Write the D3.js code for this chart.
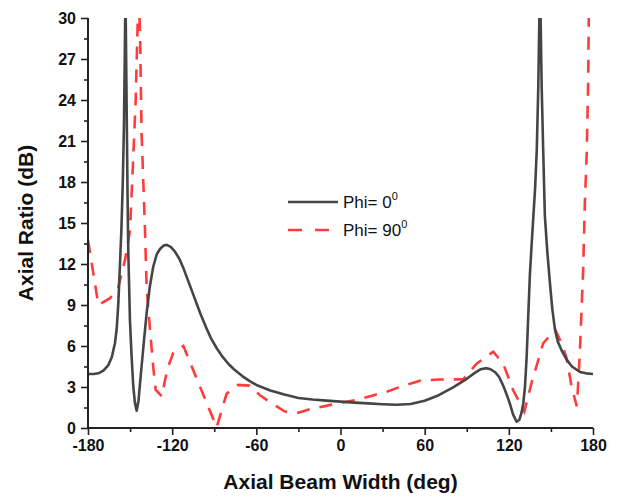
<!DOCTYPE html>
<html>
<head>
<meta charset="utf-8">
<script src="https://cdn.jsdelivr.net/npm/d3@7"></script>
<style>
  html, body { margin: 0; padding: 0; background: #fff; }
  svg { display: block; font-family: "Liberation Sans", Arial, Helvetica, sans-serif; }
</style>
</head>
<body>
<svg id="chart" width="618" height="497"></svg>
<script>
// ---- data ----
const xTicks = [-180, -120, -60, 0, 60, 120, 180];
const yTicks = [0, 3, 6, 9, 12, 15, 18, 21, 24, 27, 30];
const seriesNames = ["Phi= 0", "Phi= 90"];

const phi0Deg = [-180,-176,-172.6,-169,-165.5,-163,-160.8,-159.5,-158.4,-157.2,-156.2,-155.2,-154.4,-153.8,-153.3,-152.8,-152.3,-151.8,-151.3,-150.6,-150.1,-149,-147.7,-146.5,-145.3,-144,-142.8,-141.8,-140,-138.2,-136,-133.5,-131,-128.7,-126,-123.9,-121,-118,-115,-112,-108,-104,-100,-96,-92,-88,-84,-80,-76,-70,-65,-60,-50,-40,-30,-20,-10,0,10,20,30,40,50,60,70,80,90,96,100,104,107,110,113,116,119,121,123,125.5,127.5,129,130.3,131.5,132.7,133.8,135,136.3,137.5,138.7,139.9,141,142.2,143.4,144.5,145.7,147.5,149.3,151,152.9,155,158,161.2,165,170.7,175,180];
const phi0Val = [3.95,3.95,4.0,4.2,4.6,5.2,6.2,7.3,9.1,12.0,14.5,18,22,27,32,27,22,17,13,10,7.9,5.4,3.0,1.8,1.27,2.0,3.4,4.5,6.5,8.4,10.3,11.8,12.7,13.1,13.35,13.4,13.25,12.9,12.4,11.7,10.6,9.5,8.4,7.4,6.5,5.8,5.2,4.7,4.3,3.8,3.45,3.15,2.75,2.45,2.2,2.08,2.0,1.93,1.86,1.8,1.74,1.7,1.76,2.0,2.4,2.95,3.6,4.05,4.3,4.38,4.3,4.1,3.75,3.1,2.3,1.7,1.0,0.46,0.6,1.1,1.8,3.0,5.2,8.1,11.2,13.5,15.5,17.5,20.3,25,33,25,20.3,15.5,12.8,10.6,8.7,7.2,6.3,5.6,5.0,4.5,4.1,4.0,3.95];

const phi90Deg = [-180,-172.6,-164.3,-158.4,-153.6,-150.1,-148.5,-146,-144.5,-143.6,-142.9,-141.8,-139.4,-138.2,-135.8,-133.5,-131.8,-127.3,-125.1,-122.8,-119.2,-112,-88.3,-81.2,-73,-65,-57.4,-49,-39.6,-30,-21,-11,0,11.5,22,33,45,56.6,70,87.5,97,108.9,116,123,131,136.2,144.5,153,157.6,161.2,164.8,168.4,169.2,170.7,173,174.2,175.5,176.5,177,177.5];
const phi90Val = [13.75,9.0,9.5,10.3,12.3,14.4,18,24,30,31,28.9,21.6,14.6,10.3,7.2,4.5,2.8,2.3,3.5,4.5,5.5,6.0,0.05,2.5,3.15,3.1,2.4,1.8,1.2,1.12,1.4,1.6,1.85,2.05,2.35,2.66,3.1,3.46,3.55,3.56,4.7,5.58,4.7,2.8,1.2,3.3,6.2,7.2,6.2,5.1,3.0,1.6,2.8,5.7,11.6,16.5,20,25,30,32];

// ---- layout ----
const svg = d3.select("#chart");
const mLeft = 88, mRight = 593, mTop = 18, mBottom = 428;
const x = d3.scaleLinear().domain([-180, 180]).range([mLeft, mRight]);
const y = d3.scaleLinear().domain([0, 30]).range([mBottom, mTop]);

svg.append("defs").append("clipPath").attr("id", "clip")
  .append("rect").attr("x", mLeft).attr("y", mTop).attr("width", mRight - mLeft + 2).attr("height", mBottom - mTop);

const line = d3.line().x(d => x(d[0])).y(d => y(d[1]));
const d0 = phi0Deg.map((d, i) => [d, phi0Val[i]]);
const d90 = phi90Deg.map((d, i) => [d, phi90Val[i]]);

const plot = svg.append("g").attr("clip-path", "url(#clip)");
plot.append("path").datum(d90).attr("d", line)
  .attr("fill", "none").attr("stroke", "#ff3b3b").attr("stroke-width", 2.6)
  .attr("stroke-dasharray", "13,10");
plot.append("path").datum(d0).attr("d", line)
  .attr("fill", "none").attr("stroke", "#454545").attr("stroke-width", 2.6)
  .attr("stroke-linejoin", "round");

// ---- axes ----
const xMinor = d3.range(-150, 180, 60);
const yMinor = d3.range(1.5, 30, 3);
const fmt = d => String(d);

const xAxis = svg.append("g").attr("transform", `translate(0,${mBottom})`)
  .call(d3.axisBottom(x).tickValues(xTicks).tickSize(7).tickPadding(5).tickFormat(fmt));
svg.append("g").attr("transform", `translate(0,${mBottom})`)
  .call(d3.axisBottom(x).tickValues(xMinor).tickSize(4).tickFormat(""))
  .call(g => g.select(".domain").remove());
const yAxis = svg.append("g").attr("transform", `translate(${mLeft},0)`)
  .call(d3.axisLeft(y).tickValues(yTicks).tickSize(7).tickPadding(5).tickFormat(fmt));
svg.append("g").attr("transform", `translate(${mLeft},0)`)
  .call(d3.axisLeft(y).tickValues(yMinor).tickSize(4).tickFormat(""))
  .call(g => g.select(".domain").remove());

svg.selectAll(".domain").attr("stroke", "#222").attr("stroke-width", 2);
svg.selectAll(".tick line").attr("stroke", "#222").attr("stroke-width", 1.6);
svg.selectAll(".tick text").attr("font-size", 16).attr("font-weight", "bold")
  .attr("fill", "#111").attr("font-family", "'Liberation Sans', Arial, sans-serif");
xAxis.selectAll(".domain").attr("d", `M${mLeft},0H${mRight}`);
yAxis.selectAll(".domain").attr("d", `M0,${mBottom}V${mTop}`);

// ---- titles ----
svg.append("text").attr("x", (mLeft + mRight) / 2).attr("y", 489)
  .attr("text-anchor", "middle").attr("font-size", 21).attr("font-weight", "bold")
  .attr("fill", "#111").text("Axial Beam Width (deg)");
svg.append("text").attr("transform", `translate(33,${(mTop + mBottom) / 2}) rotate(-90)`)
  .attr("text-anchor", "middle").attr("font-size", 21).attr("font-weight", "bold")
  .attr("fill", "#111").text("Axial Ratio (dB)");

// ---- legend ----
const legend = svg.append("g");
const legendItems = [
  { name: seriesNames[0], color: "#454545", dash: null, yy: 202, ty: 208 },
  { name: seriesNames[1], color: "#ff3b3b", dash: "14,13", yy: 230, ty: 236 }
];
legendItems.forEach(it => {
  legend.append("line").attr("x1", 288).attr("x2", 338).attr("y1", it.yy).attr("y2", it.yy)
    .attr("stroke", it.color).attr("stroke-width", 2.6)
    .attr("stroke-dasharray", it.dash);
  const t = legend.append("text").attr("x", 343).attr("y", it.ty)
    .attr("font-size", 17).attr("fill", "#111");
  t.append("tspan").text(it.name);
  t.append("tspan").attr("font-size", 11).attr("dy", -8).text("0");
});
</script>
</body>
</html>
